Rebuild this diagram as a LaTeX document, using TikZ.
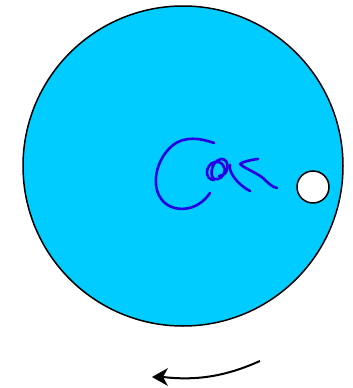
\documentclass[tikz,border=0pt]{standalone}
\usetikzlibrary{arrows.meta}
\definecolor{disk}{RGB}{0,204,255}
\definecolor{ink}{RGB}{40,0,230}
\begin{document}
\begin{tikzpicture}[x=1pt,y=-1pt,
  scribble/.style={draw=ink,line width=2.6pt,line cap=round,line join=round}]
\useasboundingbox (0,0) rectangle (353,388);
\node[circle,draw=black,line width=1.5pt,fill=disk,minimum size=320pt,inner sep=0pt] (disk) at (183,166) {};
\node[circle,draw=black,line width=1.5pt,fill=white,minimum size=32pt,inner sep=0pt] (hole) at (313,187) {};
% scribble
\draw[scribble] (214,143) .. controls (200,138) and (185,136) .. (173,145)
  .. controls (155,160) and (152,185) .. (160,197)
  .. controls (168,212) and (195,215) .. (210,193);
\draw[scribble] (214,180) .. controls (204,180) and (205,164) .. (215,162)
  .. controls (226,160) and (228,176) .. (218,179)
  .. controls (208,182) and (210,161) .. (221,159)
  .. controls (230,158) and (230,176) .. (219,176);
\draw[scribble] (230,165) .. controls (228,172) and (238,185) .. (250,191);
\draw[scribble] (258,159) .. controls (250,160) and (242,162) .. (240,164)
  .. controls (244,168) and (255,172) .. (263,178)
  .. controls (268,183) and (272,187) .. (277,188);
% arrow
\coordinate (a1) at (260,361);
\coordinate (a2) at (152,377);
\coordinate (a3) at (163,377);
\draw[line width=2pt] (a1) .. controls (235,372) and (205,382) .. (a3);
\fill (a2) -- (168,368) -- (163,377) -- (168,386) -- cycle;
\end{tikzpicture}
\end{document}
